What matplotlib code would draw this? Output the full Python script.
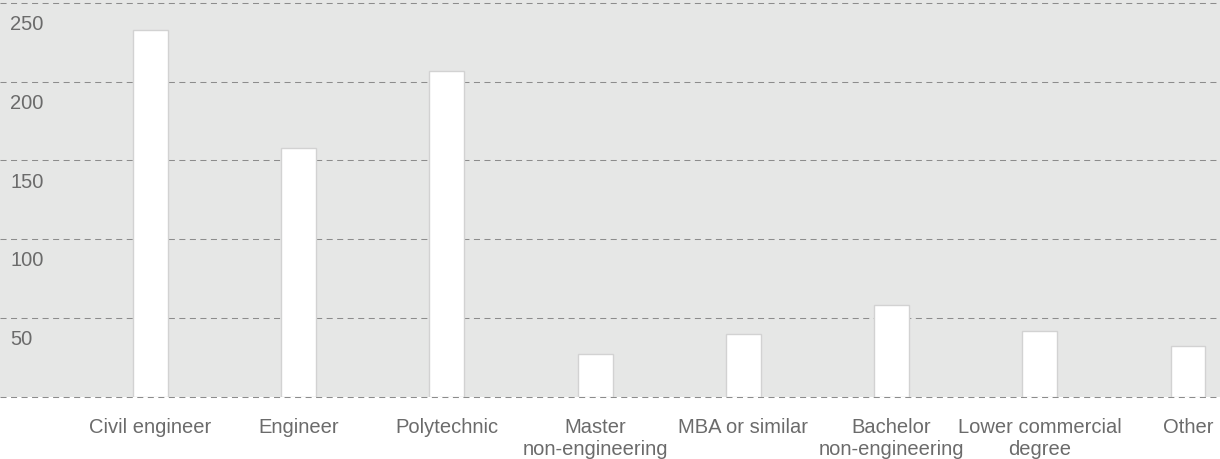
import matplotlib
matplotlib.use("Agg")
import matplotlib.pyplot as plt

# education background counts
categories = ["Civil engineer", "Engineer", "Polytechnic", "Master\nnon-engineering",
              "MBA or similar", "Bachelor\nnon-engineering", "Lower commercial\ndegree", "Other"]
counts = [233, 158, 207, 27, 40, 58, 42, 32]
grid_values = [0, 50, 100, 150, 200, 250]
grid_labels = ["", "50", "100", "150", "200", "250"]

plt.rcParams["font.family"] = ["Liberation Sans", "DejaVu Sans"]
text_grey = "#6b6b6b"

fig = plt.figure(figsize=(12.2, 4.59), dpi=100)
ax = fig.add_axes([0, 62.3 / 459, 1, 396.7 / 459])
ax.set_facecolor("#e6e7e6")

x = list(range(len(categories)))
ax.bar(x, counts, width=0.236, color="white", edgecolor="#d2d2d2", linewidth=1.0, zorder=3)

# dashed gridlines with labels sitting just under each line
for v, lab in zip(grid_values, grid_labels):
    ax.axhline(v, color="#8c8c8c", linewidth=0.75, linestyle=(0, (5.8, 4.3)),
               zorder=2, clip_on=False)
    if lab:
        ax.annotate(lab, xy=(0, v), xycoords=("axes fraction", "data"),
                    xytext=(7.5, -15.5), textcoords="offset points",
                    ha="left", va="center", fontsize=14.5, color=text_grey)

ax.set_xlim(-1.016, 7.216)
ax.set_ylim(0, 251.9)
ax.set_xticks(x)
ax.set_xticklabels(categories, fontsize=14.5, color=text_grey, linespacing=1.25, va="top")
ax.tick_params(axis="x", length=0, pad=15)
ax.set_yticks([])
for s in ax.spines.values():
    s.set_visible(False)

fig.savefig("out.png", dpi=100, facecolor="white")
